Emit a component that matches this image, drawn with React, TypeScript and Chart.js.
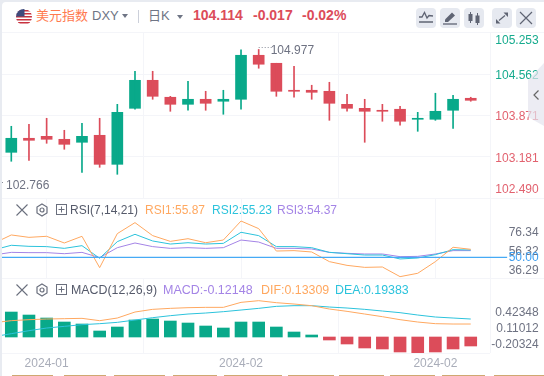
import React, { useEffect, useRef } from "react";
import { Chart, registerables } from "chart.js";

Chart.register(...registerables);

// index 0 in every array is the session just left of the visible window
const opens = [103.2, 103.255, 103.49, 103.523, 103.473, 103.423, 103.54, 103.054, 103.992, 104.461, 104.177, 104.059, 104.143, 104.11, 104.143, 104.88, 104.746, 104.294, 104.294, 104.277, 104.059, 103.992, 103.959, 103.976, 103.808, 103.808, 103.959, 104.16];
const highs = [103.5, 103.691, 103.724, 103.825, 103.624, 103.741, 103.825, 104.059, 104.612, 104.612, 104.193, 104.445, 104.277, 104.294, 104.97, 104.977, 104.746, 104.696, 104.378, 104.428, 104.227, 104.143, 104.059, 104.026, 103.925, 104.244, 104.21, 104.177];
const lows = [102.766, 103.105, 103.121, 103.406, 103.306, 102.92, 103.004, 102.887, 103.976, 104.143, 103.942, 103.959, 103.959, 103.892, 103.976, 104.663, 104.193, 104.177, 104.143, 103.791, 103.942, 103.423, 103.775, 103.708, 103.607, 103.791, 103.657, 104.11];
const closes = [103.4, 103.49, 103.456, 103.473, 103.389, 103.523, 103.054, 103.925, 104.461, 104.193, 104.059, 104.143, 104.076, 104.143, 104.88, 104.73, 104.277, 104.277, 104.26, 104.076, 103.992, 103.942, 103.942, 103.775, 103.825, 103.942, 104.143, 104.126];

const rsi1 = [64.6, 73.4, 70.9, 72.0, 65.0, 72.0, 39.2, 74.8, 86.3, 72.7, 66.7, 69.5, 65.3, 68.1, 88.0, 80.0, 56.6, 57.0, 55.6, 45.5, 41.6, 39.5, 39.9, 29.8, 33.3, 45.5, 60.5, 58.4];
const rsi2 = [57.7, 62.6, 61.5, 61.2, 59.4, 62.2, 49.0, 66.4, 74.1, 67.1, 63.9, 65.3, 63.9, 64.6, 76.2, 72.7, 61.2, 61.2, 60.1, 55.2, 53.8, 52.4, 52.4, 48.3, 49.3, 52.8, 58.0, 57.7];
const rsi3 = [52.4, 55.2, 54.9, 54.9, 53.8, 55.2, 49.7, 60.1, 65.0, 61.2, 59.4, 60.1, 59.4, 60.1, 68.1, 66.0, 59.4, 59.4, 58.7, 55.2, 54.2, 53.5, 53.5, 50.7, 51.0, 53.5, 57.0, 57.0];

const macdBars = [0.36, 0.3375, 0.297, 0.2565, 0.2025, 0.1755, 0.081, 0.135, 0.2295, 0.243, 0.216, 0.189, 0.1485, 0.1215, 0.2025, 0.2025, 0.135, 0.0675, 0.027, -0.0405, -0.0945, -0.1485, -0.162, -0.2025, -0.2115, -0.2025, -0.162, -0.1215];
const dif = [0.149, 0.173, 0.185, 0.193, 0.197, 0.201, 0.173, 0.205, 0.277, 0.309, 0.321, 0.329, 0.333, 0.333, 0.393, 0.413, 0.389, 0.373, 0.353, 0.313, 0.285, 0.253, 0.221, 0.185, 0.157, 0.137, 0.133, 0.133];
const dea = [-0.019, 0.017, 0.053, 0.085, 0.105, 0.125, 0.137, 0.153, 0.181, 0.209, 0.233, 0.253, 0.265, 0.281, 0.301, 0.321, 0.345, 0.353, 0.353, 0.337, 0.325, 0.309, 0.289, 0.269, 0.241, 0.217, 0.205, 0.193];

const priceTicks = [105.253, 104.562, 103.871, 103.181, 102.49];
const priceTickLabels = ["105.253", "104.562", "103.871", "103.181", "102.490"];
const rsiTicks = [76.34, 56.32, 50.0, 36.29];
const rsiTickLabels = ["76.34", "56.32", "50.00", "36.29"];
const macdTicks = [0.42348, 0.11012, -0.20324];
const macdTickLabels = ["0.42348", "0.11012", "-0.20324"];
const dateTicks = [2, 13, 24];
const dateLabels = ["2024-01", "2024-02", "2024-02"];

const GREEN = "#09a98a";
const RED = "#dc4c5a";
const GRID = "#f4f5f9";
const AXIS = "#6e7282";
const ORANGE = "#ffa860";
const CYAN = "#2cc3dc";
const PURPLE = "#a484e6";
const BLUE = "#46aaf5";
const FONT = "'Liberation Sans', Arial, sans-serif";

const X_MIN = -0.526;
const X_MAX = 27.09;
const RIGHT_PAD = 54;
const LABEL_RIGHT = 536.7; // page x 538.7, canvases start at page x 2

const idx = opens.map((_, i) => i - 1);
const series = (a: number[]) => a.map((y, i) => ({ x: idx[i], y }));
const tabs = [[12, 53], [64, 106], [114, 165], [173, 217], [224, 272], [272, 282], [288, 334], [339, 384], [390, 435], [442, 485], [494, 544]];

function xScale(showDates: boolean) {
  return {
    type: "linear",
    min: X_MIN,
    max: X_MAX,
    offset: false,
    border: { display: false },
    grid: { color: GRID, drawTicks: false, lineWidth: 1 },
    afterBuildTicks: (s: any) => { s.ticks = dateTicks.map((value) => ({ value })); },
    afterFit: (s: any) => { s.height = showDates ? 23 : 0; },
    ticks: {
      display: showDates,
      autoSkip: false,
      maxRotation: 0,
      padding: 3,
      color: "#a9adb9",
      font: { family: FONT, size: 12 },
      callback: (v: number) => dateLabels[dateTicks.indexOf(v)] ?? "",
    },
  };
}

function hiddenY(min: number, max: number) {
  return { display: false, min, max };
}

function axisLabels(scaleId: string, ticks: number[], labels: string[], style: (i: number) => { dy: number; color: string }) {
  return {
    id: "axisLabels",
    afterDraw(chart: any) {
      const { ctx } = chart;
      const s = chart.scales[scaleId];
      ctx.save();
      ctx.font = `12px ${FONT}`;
      ctx.textAlign = "right";
      ctx.textBaseline = "middle";
      ticks.forEach((t, i) => {
        const st = style(i);
        ctx.fillStyle = st.color;
        ctx.fillText(labels[i], LABEL_RIGHT, s.getPixelForValue(t) + st.dy);
      });
      ctx.restore();
    },
  };
}

const extremes = {
  id: "extremes",
  afterDraw(chart: any) {
    const { ctx, scales } = chart;
    const hiValue = Math.max(...highs);
    const loValue = Math.min(...lows);
    const hx = scales.x.getPixelForValue(idx[highs.indexOf(hiValue)]);
    const hy = scales.y.getPixelForValue(hiValue);
    const ly = scales.y.getPixelForValue(loValue);
    ctx.save();
    ctx.strokeStyle = "#8a8e9a";
    ctx.setLineDash([1, 2]);
    ctx.beginPath();
    ctx.moveTo(hx, Math.round(hy) - 1.5);
    ctx.lineTo(hx + 13, Math.round(hy) - 1.5);
    ctx.moveTo(0, Math.round(ly) + 0.5);
    ctx.lineTo(3, Math.round(ly) + 0.5);
    ctx.stroke();
    ctx.fillStyle = AXIS;
    ctx.font = `12px ${FONT}`;
    ctx.textBaseline = "middle";
    ctx.fillText(hiValue.toFixed(3), hx + 12, hy + 1.5);
    ctx.fillText(loValue.toFixed(3), 4, ly + 4);
    ctx.restore();
  },
};

function Svg({ x, y, w, h, children }: any) {
  return (
    <svg width={w} height={h} viewBox={`0 0 ${w} ${h}`} style={{ position: "absolute", left: x, top: y }}>
      {children}
    </svg>
  );
}

function Txt({ x, y, size = 12, color, bold, children }: any) {
  return (
    <div style={{ position: "absolute", left: x, top: y - 10, height: 20, lineHeight: "20px", fontSize: size, color, fontWeight: bold ? 700 : 400, fontFamily: FONT, whiteSpace: "nowrap" }}>
      {children}
    </div>
  );
}

function Line({ x, y, w, h, c = GRID }: any) {
  return <div style={{ position: "absolute", left: x, top: y, width: w, height: h, background: c }} />;
}

function Btn({ x, children }: any) {
  return (
    <div style={{ position: "absolute", left: x, top: 8, width: 20, height: 20, borderRadius: 4, background: "#e6e9f0" }}>
      <svg width={20} height={20} viewBox="0 0 20 20" style={{ position: "absolute", left: 0, top: 0 }}>
        {children}
      </svg>
    </div>
  );
}

function PanelIcons({ y }: { y: number }) {
  const c = "#6a6f7d";
  return (
    <>
      <Svg x={16} y={y - 6} w={12} h={12}>
        <path d="M0.5 0.5 L11.5 11.5 M11.5 0.5 L0.5 11.5" stroke={c} strokeWidth={1.1} fill="none" />
      </Svg>
      <Svg x={36} y={y - 7} w={12} h={14}>
        <path d="M6 1 L11 4 V10 L6 13 L1 10 V4 Z" stroke={c} strokeWidth={1.2} fill="none" />
        <circle cx={6} cy={7} r={2} stroke={c} strokeWidth={1.2} fill="none" />
      </Svg>
      <Svg x={56} y={y - 6} w={12} h={12}>
        <rect x={0.5} y={0.5} width={10} height={10} stroke={c} fill="none" />
        <path d="M5.5 2.5 V8.5 M2.5 5.5 H8.5" stroke={c} fill="none" />
      </Svg>
    </>
  );
}

export default function App() {
  const priceRef = useRef<HTMLCanvasElement>(null);
  const rsiRef = useRef<HTMLCanvasElement>(null);
  const macdRef = useRef<HTMLCanvasElement>(null);

  useEffect(() => {
    const base = {
      responsive: false,
      animation: false,
      devicePixelRatio: 1,
      layout: { padding: { left: 0, right: RIGHT_PAD, top: 0, bottom: 0 } },
      plugins: { legend: { display: false }, tooltip: { enabled: false } },
      events: [],
    };

    const candleColors = opens.map((o, i) => (closes[i] >= o ? GREEN : RED));

    const price = new Chart(priceRef.current as any, {
      type: "bar",
      data: {
        datasets: [
          { data: idx.map((x, i) => ({ x, y: [lows[i], highs[i]] })), backgroundColor: candleColors, barThickness: 1, grouped: false, borderWidth: 0, borderSkipped: false },
          { data: idx.map((x, i) => ({ x, y: [opens[i], closes[i]] })), backgroundColor: candleColors, barThickness: 11, grouped: false, borderWidth: 0, borderSkipped: false },
        ] as any,
      },
      options: {
        ...base,
        scales: {
          x: xScale(false),
          y: {
            min: priceTicks[4],
            max: priceTicks[0],
            border: { display: false },
            grid: { color: GRID, drawTicks: false },
            afterBuildTicks: (s: any) => { s.ticks = priceTicks.slice(1, 4).map((value) => ({ value })); },
            afterFit: (s: any) => { s.width = 0; },
            ticks: { display: false },
          },
        },
      } as any,
      plugins: [
        axisLabels("y", priceTicks, priceTickLabels, (i) => ({
          dy: i === 0 ? 8 : i === 4 ? -8 : 1.5,
          color: i < 2 ? "#16ab8e" : "#e2626f",
        })),
        extremes,
      ],
    });

    const rsi = new Chart(rsiRef.current as any, {
      type: "line",
      data: {
        datasets: [
          { data: [{ x: X_MIN, y: rsiTicks[2] }, { x: 28.06, y: rsiTicks[2] }], borderColor: BLUE, borderWidth: 1.2, pointRadius: 0, clip: false },
          { data: series(rsi1), borderColor: ORANGE, borderWidth: 1, pointRadius: 0 },
          { data: series(rsi2), borderColor: CYAN, borderWidth: 1, pointRadius: 0 },
          { data: series(rsi3), borderColor: PURPLE, borderWidth: 1, pointRadius: 0 },
        ],
      },
      options: {
        ...base,
        scales: { x: xScale(false), y: { ...hiddenY(28.38, 112.06) } },
      } as any,
      plugins: [
        axisLabels("y", rsiTicks, rsiTickLabels, (i) => ({ dy: 0.5, color: i === 2 ? "#3c9df0" : AXIS })),
      ],
    });

    const macd = new Chart(macdRef.current as any, {
      type: "bar",
      data: {
        datasets: [
          { type: "line", data: series(dif), borderColor: ORANGE, borderWidth: 1, pointRadius: 0, yAxisID: "yLines", order: 1 },
          { type: "line", data: series(dea), borderColor: CYAN, borderWidth: 1, pointRadius: 0, yAxisID: "yLines", order: 1 },
          { data: series(macdBars), backgroundColor: macdBars.map((v) => (v >= 0 ? GREEN : RED)), barThickness: 12, borderWidth: 0, yAxisID: "yBars", order: 2 },
        ] as any,
      },
      options: {
        ...base,
        scales: {
          x: xScale(true),
          y: { ...hiddenY(-0.3662, 1.1026) },
          yBars: { ...hiddenY(-0.2162, 0.7973) },
          yLines: { ...hiddenY(-0.2148, 0.6852) },
        },
      } as any,
      plugins: [
        axisLabels("y", macdTicks, macdTickLabels, () => ({ dy: 0.5, color: AXIS })),
      ],
    });

    return () => {
      price.destroy();
      rsi.destroy();
      macd.destroy();
    };
  }, []);

  const icon = "#5f6473";
  return (
    <div style={{ position: "fixed", left: 0, top: 0, width: 544, height: 376, overflow: "hidden", background: "#e8ebf1" }}>
      <div style={{ position: "absolute", left: 2, top: 2, width: 542, height: 374, background: "#fff", borderTopLeftRadius: 4 }} />

      {/* header */}
      <svg width={16} height={16} viewBox="0 0 16 16" style={{ position: "absolute", left: 16, top: 9 }}>
        <defs>
          <clipPath id="flagClip"><circle cx={8} cy={8} r={8} /></clipPath>
        </defs>
        <g clipPath="url(#flagClip)">
          <rect width={16} height={16} fill="#fff" />
          {[1, 4, 7, 10, 13].map((y) => <rect key={y} x={0} y={y} width={16} height={1.5} fill="#c8323f" />)}
          <rect x={0} y={0} width={8.5} height={7.5} fill="#3f4a7c" />
        </g>
      </svg>
      <Txt x={36} y={15} size={13} color="#ff7a4f"><span style={{ fontFamily: "'Noto Sans CJK SC'" }}>美元指数</span></Txt>
      <Txt x={92} y={16} size={13} color="#6f7585">DXY</Txt>
      <Svg x={122} y={14} w={6} h={4}><path d="M0 0 H6 L3 4 Z" fill="#6f7585" /></Svg>
      <Line x={138} y={10} w={1} h={13} c="#ccd0da" />
      <Txt x={148} y={15} size={13} color="#6f7585"><span style={{ fontFamily: "'Noto Sans CJK SC'" }}>日</span>K</Txt>
      <Svg x={177} y={15} w={6} h={4}><path d="M0 0 H6 L3 4 Z" fill="#6f7585" /></Svg>
      <Txt x={193} y={15} size={14} bold color={RED}>104.114</Txt>
      <Txt x={253} y={15} size={14} bold color={RED}>-0.017</Txt>
      <Txt x={302} y={15} size={14} bold color={RED}>-0.02%</Txt>

      <Btn x={416}>
        <path d="M3 9 L6 9 L8.5 4.5 L11 10 L13 7.5 L17 8" stroke={icon} strokeWidth={1.3} fill="none" />
        <path d="M3 14 H17" stroke={icon} strokeWidth={1.5} />
      </Btn>
      <Btn x={440}>
        <path d="M5 11.5 L12 4.5 L15 7.5 L8 14 H5 Z" fill={icon} />
        <path d="M3 16 H17" stroke={icon} strokeWidth={1.3} />
      </Btn>
      <Btn x={464}>
        <path d="M6.5 4 V15 M13.5 5 V17" stroke={icon} strokeWidth={1} />
        <rect x={4.5} y={6} width={4} height={7} fill={icon} />
        <rect x={11.5} y={7.5} width={4} height={7.5} fill={icon} />
      </Btn>
      <Btn x={492}>
        <path d="M11.5 4.5 H16 V9 Z M8.5 15.5 H4 V11 Z" fill={icon} />
        <path d="M13 7.5 L7 12.5" stroke={icon} strokeWidth={1.2} />
      </Btn>
      <Btn x={516}>
        <path d="M4 4 L16 16 M16 4 L4 16" stroke={icon} strokeWidth={1.2} />
      </Btn>

      {/* panel separators */}
      <Line x={2} y={32} w={542} h={1} />
      <Line x={2} y={198} w={542} h={1} />
      <Line x={2} y={278} w={542} h={1} />
      <Line x={2} y={353} w={488} h={1} />
      <Line x={490} y={33} w={1} h={320} />

      <canvas ref={priceRef} width={542} height={165} style={{ position: "absolute", left: 2, top: 33, width: 542, height: 165 }} />
      <canvas ref={rsiRef} width={542} height={80} style={{ position: "absolute", left: 2, top: 198, width: 542, height: 80 }} />
      <canvas ref={macdRef} width={542} height={98} style={{ position: "absolute", left: 2, top: 278, width: 542, height: 98 }} />

      {/* side collapse tab */}
      <div style={{ position: "absolute", left: 528, top: 63, width: 16, height: 63, background: "rgba(228,228,238,0.7)", clipPath: "polygon(0 17px, 100% 0, 100% 100%, 0 54px)" }} />
      <Svg x={533} y={90} w={6} h={10}><path d="M5.5 0.5 L1 5 L5.5 9.5" stroke="#666" strokeWidth={1.2} fill="none" /></Svg>

      {/* RSI header */}
      <PanelIcons y={210} />
      <Txt x={70} y={210} color="#555a6a">RSI(7,14,21)</Txt>
      <Txt x={145} y={210} color={ORANGE}>RSI1:55.87</Txt>
      <Txt x={212} y={210} color={CYAN}>RSI2:55.23</Txt>
      <Txt x={277} y={210} color={PURPLE}>RSI3:54.37</Txt>

      {/* MACD header */}
      <PanelIcons y={290} />
      <Txt x={71} y={290} size={12.4} color="#555a6a">MACD(12,26,9)</Txt>
      <Txt x={163} y={290} size={12.5} color={PURPLE}>MACD:-0.12148</Txt>
      <Txt x={261} y={290} size={12.4} color={ORANGE}>DIF:0.13309</Txt>
      <Txt x={335} y={290} size={12.4} color={CYAN}>DEA:0.19383</Txt>

      {/* clipped tabs along the bottom edge */}
      {tabs.map(([a, b]) => <Line key={a} x={a} y={375} w={b - a} h={1} c="#cfa871" />)}
    </div>
  );
}
